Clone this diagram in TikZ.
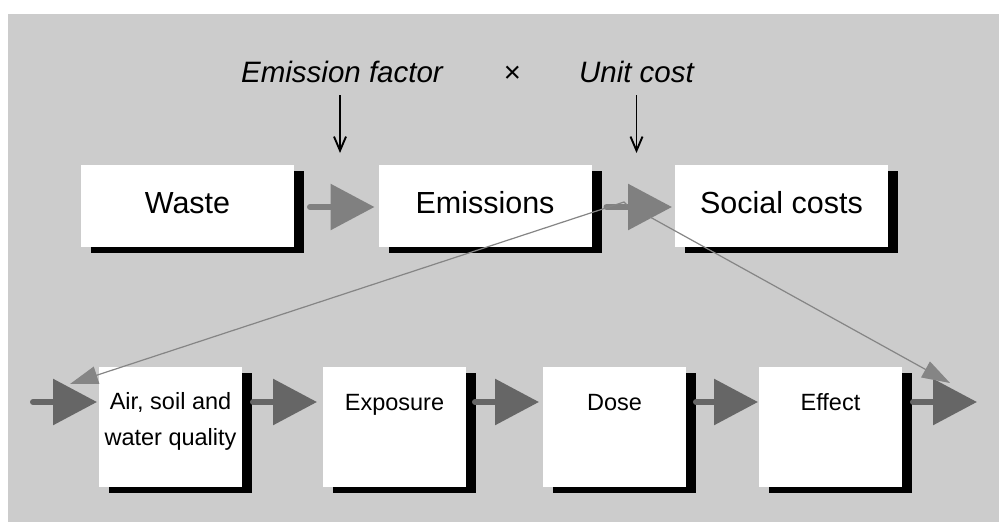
\documentclass[tikz,border=0pt]{standalone}
\usepackage{fontspec}
\setmainfont{Liberation Sans}
\usetikzlibrary{arrows.meta,shadows}
\definecolor{bggray}{HTML}{CCCCCC}
\definecolor{toparrow}{HTML}{808080}
\definecolor{botarrow}{HTML}{666666}
\definecolor{thinline}{HTML}{858585}
\begin{document}
\begin{tikzpicture}[x=1pt,y=-1pt,
  box/.style={draw=none, fill=white, inner sep=0pt, outer sep=0pt,
    drop shadow={shadow xshift=10pt, shadow yshift=-6pt, fill=black, opacity=1}},
  topbox/.style={box, minimum width=213pt, minimum height=82pt},
  botbox/.style={box, minimum width=143pt, minimum height=120pt},
  toptext/.style={font=\fontsize{30.5}{36}\selectfont, inner sep=0pt, anchor=base},
  bottext/.style={font=\fontsize{23.5}{36}\selectfont, inner sep=0pt, anchor=base, align=center},
  factor/.style={font=\itshape\fontsize{29.5}{34}\selectfont, inner sep=0pt, anchor=base},
  fatarrow/.style={line width=6pt, line cap=round, -{Triangle[length=44pt,width=45pt]}},
  toparr/.style={fatarrow, draw=toparrow},
  botarr/.style={fatarrow, draw=botarrow},
  thinarr/.style={draw=thinline, line width=1.2pt, -{Triangle[length=28pt,width=18pt]}},
  downarr/.style={draw=black, line width=1.9pt, -{Straight Barb[length=14pt,width=12pt]}}
]
\useasboundingbox (0,0) rectangle (999,522);
\fill[white] (0,0) rectangle (999,522);
\fill[bggray] (8,14) rectangle (999,522);

% top row
\node[topbox] (waste) at (187.5,206) {};
\node[topbox] (emis) at (485,206) {};
\node[topbox] (social) at (781.5,206) {};
\node[toptext] (wasteT) at ([yshift=-7pt]waste.center) {Waste};
\node[toptext] (emisT) at ([yshift=-7pt]emis.center) {Emissions};
\node[toptext] (socialT) at ([yshift=-7pt]social.center) {Social costs};

% factors
\node[factor] (ef) at (342,82) {Emission factor};
\node[factor] (times) at (512,82) {×};
\node[factor] (uc) at (636.5,82) {Unit cost};
\draw[downarr] ([xshift=-2pt,yshift=-13pt]ef.base) -- ([xshift=-2pt,yshift=12pt]ef.base |- emis.north);
\draw[downarr] ([yshift=-13pt]uc.base) -- ([yshift=12pt]uc.base |- social.north);

% bottom row
\node[botbox] (air) at (170.5,427) {};
\node[botbox] (expo) at (394.5,427) {};
\node[botbox] (dose) at (614.5,427) {};
\node[botbox] (eff) at (830.5,427) {};
\node[bottext] (airT) at ([yshift=-18pt]air.center) {Air, soil and\\water quality};
\node[bottext] (expoT) at ([yshift=17pt]expo.center) {Exposure};
\node[bottext] (doseT) at ([yshift=17pt]dose.center) {Dose};
\node[bottext] (effT) at ([yshift=17pt]eff.center) {Effect};

% top fat arrows
\draw[toparr] ([xshift=16pt,yshift=-1pt]waste.east) -- ([xshift=-4pt,yshift=-1pt]emis.west);
\draw[toparr] ([xshift=15pt,yshift=-1pt]emis.east) -- ([xshift=-3pt,yshift=-1pt]social.west);

% bottom fat arrows
\coordinate (inS) at (33,402);
\coordinate (outE) at (977,402);
\draw[botarr] (inS) -- ([xshift=-2pt,yshift=25pt]air.west);
\draw[botarr] ([xshift=11pt,yshift=25pt]air.east) -- ([xshift=-6pt,yshift=25pt]expo.west);
\draw[botarr] ([xshift=9pt,yshift=25pt]expo.east) -- ([xshift=-4pt,yshift=25pt]dose.west);
\draw[botarr] ([xshift=10pt,yshift=25pt]dose.east) -- ([xshift=-1pt,yshift=25pt]eff.west);
\draw[botarr] ([xshift=11pt,yshift=25pt]eff.east) -- (outE);

% thin connectors
\coordinate (c1) at (624,202);
\coordinate (c1h) at (627,205);
\coordinate (a1) at (70,384);
\coordinate (c2) at (650,217);
\coordinate (a2) at (950,383);
\draw[thinarr] (c1h) -- (c1) -- (a1);
\draw[thinarr] (c2) -- (a2);
\end{tikzpicture}
\end{document}
